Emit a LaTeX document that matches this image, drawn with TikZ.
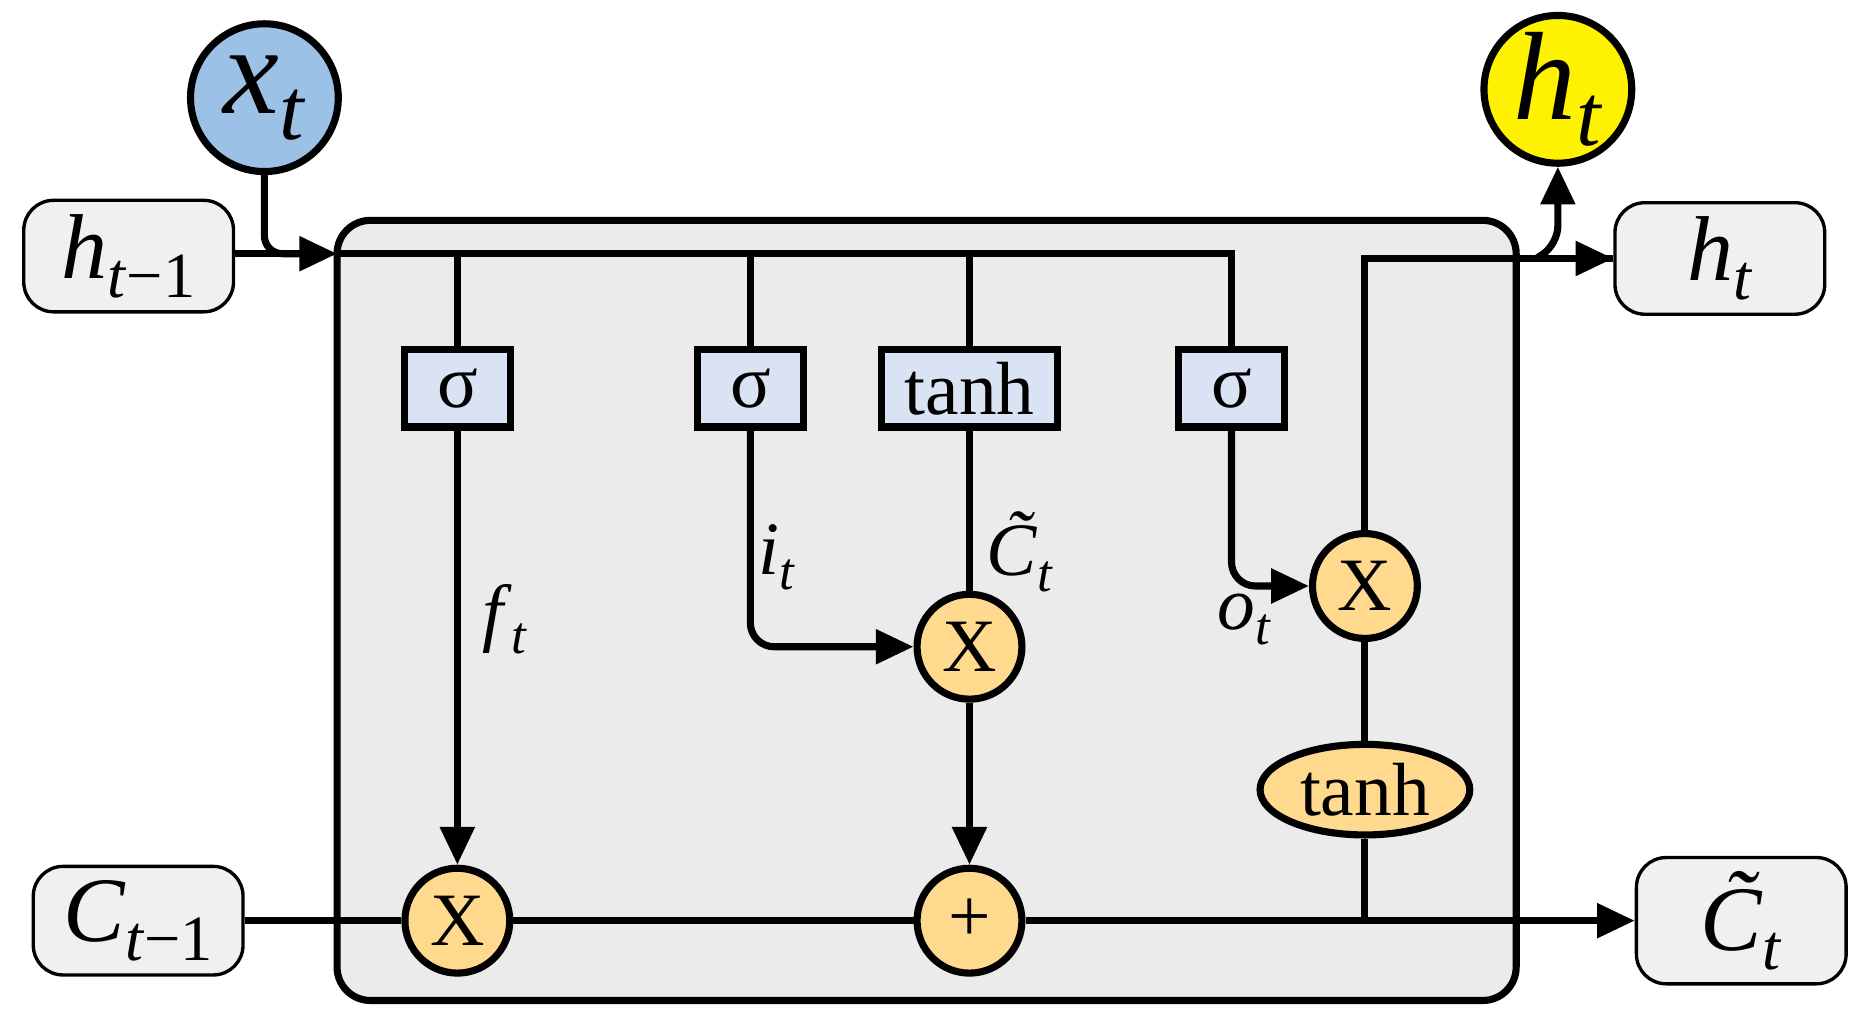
\documentclass[tikz,border=0pt]{standalone}
\usepackage{fontspec}
\setmainfont{Liberation Serif}
\usetikzlibrary{arrows.meta,shapes.geometric}
\definecolor{cellbg}{RGB}{235,235,235}
\definecolor{gatebg}{RGB}{218,227,243}
\definecolor{opbg}{RGB}{255,217,141}
\definecolor{iobg}{RGB}{240,240,240}
\definecolor{xblue}{RGB}{155,194,230}
\newcommand{\vsub}[2]{\textit{#1}\raisebox{-0.45ex}{\scalebox{0.7}{\textit{#2}}}}
\newcommand{\tildeC}{\rlap{\hspace{0.25em}\raisebox{0.18em}{\textit{\char"02DC}}}\textit{C}}
\begin{document}
\begin{tikzpicture}[x=0.01cm,y=-0.01cm,line width=1.7pt,
  >={Triangle[length=9pt,width=8pt]},
  gate/.style={draw,fill=gatebg,minimum height=0.65cm,inner sep=0pt,font=\fontsize{18}{20}\selectfont},
  op/.style={draw,circle,fill=opbg,minimum size=0.88cm,inner sep=0pt,font=\fontsize{18}{20}\selectfont},
  io/.style={draw,line width=0.8pt,fill=iobg,rounded corners=0.25cm,minimum width=1.76cm,minimum height=0.86cm,font=\fontsize{22}{24}\selectfont},
  lab/.style={font=\fontsize{18}{20}\selectfont}]
\useasboundingbox (0,0) rectangle (1560,857);
\draw[fill=cellbg,rounded corners=0.28cm] (283,185) rectangle (1273,840);
\node[io] (hin) at (108,215) {\vsub{h}{t}\raisebox{-0.45ex}{\scalebox{0.7}{−1}}};
\node[io] (hout) at (1444,217) {\vsub{h}{t}};
\node[io] (cin) at (116,773) {\vsub{C}{t}\raisebox{-0.45ex}{\scalebox{0.7}{−1}}};
\node[io] (cout) at (1462,773) {\vsub{\tildeC}{t}};
\node[draw,circle,fill=xblue,minimum size=1.24cm,inner sep=0pt,font=\fontsize{30}{32}\selectfont] (xt) at (222,82) {\vsub{x}{t}};
\node[draw,circle,fill=yellow,minimum size=1.24cm,inner sep=0pt,font=\fontsize{30}{32}\selectfont] (ht) at (1308,75) {\vsub{h}{t}};
\node[gate,minimum width=0.89cm] (s1) at (384,326) {σ};
\node[gate,minimum width=0.89cm] (s2) at (630,326) {σ};
\node[gate,minimum width=1.48cm] (th) at (814,326) {tanh};
\node[gate,minimum width=0.89cm] (s3) at (1034,326) {σ};
\node[op] (m1) at (384,773) {X};
\node[op] (pl) at (814,773) {+};
\node[op] (m2) at (814,543) {X};
\node[op] (m3) at (1146,492) {X};
\node[draw,ellipse,fill=opbg,minimum width=1.76cm,minimum height=0.76cm,inner sep=0pt,font=\fontsize{18}{20}\selectfont] (t2) at (1146,663) {tanh};
\coordinate (j) at (283,213);
\draw[->] (hin.east|-j) -- (j);
\draw[rounded corners=0.15cm] (xt.south) -- (222,213) -- (265,213);
\draw (j) -- (1034,213) -- (s3.north);
\draw (s1.north|-j) -- (s1.north);
\draw (s2.north|-j) -- (s2.north);
\draw (th.north|-j) -- (th.north);
\draw[->] (s1.south) -- (m1.north);
\draw[->,rounded corners=0.2cm] (s2.south) -- (630,543) -- (m2.west);
\draw (th.south) -- (m2.north);
\draw[->] (m2.south) -- (pl.north);
\draw[->,rounded corners=0.2cm] (s3.south) -- (1034,492) -- (m3.west);
\draw (m3.north) -- (1146,217) -- (hout.west);
\draw[->] (1146,217) -- (hout.west);
\draw[->,rounded corners=0.15cm] (1290,217) -- (1308,205) -- (ht.south);
\draw (m3.south) -- (t2.north);
\draw (t2.south) -- (1146,773);
\draw (cin.east) -- (m1.west);
\draw (m1.east) -- (pl.west);
\draw[->] (pl.east) -- (cout.west);
\node[lab] at (424,520) {\vsub{f}{t}};
\node[lab] at (652,468) {\vsub{i}{t}};
\node[lab] at (856,463) {\vsub{\tildeC}{t}};
\node[lab] at (1045,520) {\vsub{o}{t}};
\end{tikzpicture}
\end{document}
